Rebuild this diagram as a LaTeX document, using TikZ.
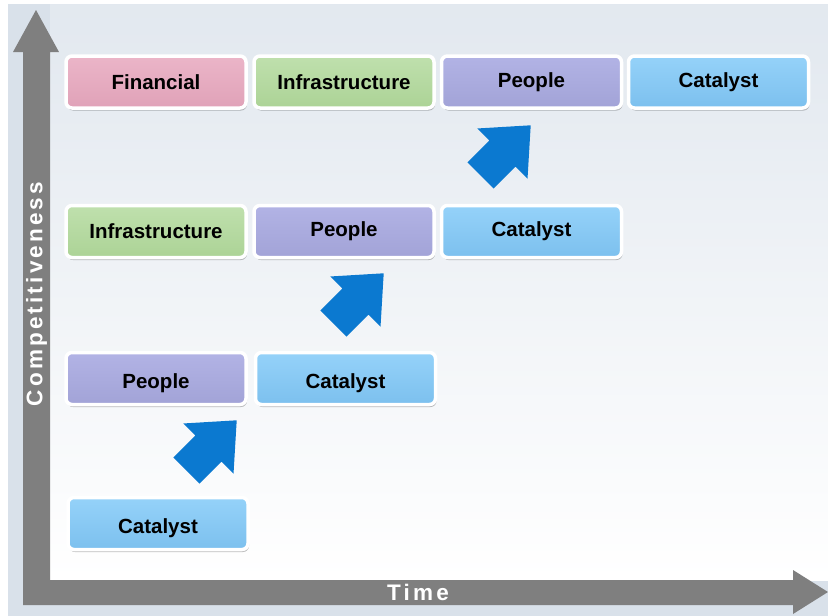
\documentclass[tikz,border=0pt]{standalone}
\usepackage{fontspec}
\setmainfont{Liberation Sans}
\newfontfamily\axisfont[LetterSpace=14]{Liberation Sans}
\usetikzlibrary{shadows}

\definecolor{bgblue}{HTML}{D9E1EA}
\definecolor{axisgray}{HTML}{7F7F7F}
\definecolor{finTop}{HTML}{EBB5C8}\definecolor{finBot}{HTML}{E0A2B8}
\definecolor{infTop}{HTML}{BFE0AD}\definecolor{infBot}{HTML}{ACD396}
\definecolor{pplTop}{HTML}{B2B3E5}\definecolor{pplBot}{HTML}{A2A3D7}
\definecolor{catTop}{HTML}{95D2F9}\definecolor{catBot}{HTML}{7CC0EE}
\definecolor{upblue}{HTML}{0B79D0}

% soft backdrop: white near the time axis, blue-grey toward the top
\pgfdeclareverticalshading{panel}{100bp}{color(0bp)=(white); color(25bp)=(white); color(70bp)=(bgblue!70!white); color(100bp)=(bgblue)}

\begin{document}
\begin{tikzpicture}[x=1pt,y=-1pt,
  stage/.style={rounded corners=6pt, draw=white, line width=3.5pt,
    minimum width=180pt, minimum height=52pt, inner sep=0pt,
    font=\fontsize{20.5}{24}\selectfont\bfseries, text=black,
    drop shadow={shadow xshift=1pt, shadow yshift=-2.5pt, opacity=0.25, fill=black}},
  lowtext/.style={text height=21pt, text depth=2pt},
  financial/.style={stage, top color=finTop, bottom color=finBot},
  infra/.style={stage, top color=infTop, bottom color=infBot},
  people/.style={stage, top color=pplTop, bottom color=pplBot},
  catalyst/.style={stage, top color=catTop, bottom color=catBot},
  axislabel/.style={text=white, font=\axisfont\fontsize{22.5}{26}\selectfont\bfseries, inner sep=0pt},
  steparrow/.style={fill=upblue, draw=none}
]
\useasboundingbox (0,0) rectangle (828,616);

% backdrop
\fill[bgblue] (8,4) rectangle (828,616);
\shade[shading=panel] (50,4) rectangle (828,580);

% axes drawn as one block outline
\fill[axisgray] (23,52) -- (13,52) -- (36,10) -- (59,52) -- (50,52) -- (50,580)
  -- (793,580) -- (793,570) -- (828,592) -- (793,614) -- (793,605) -- (23,605) -- cycle;

\node[axislabel, rotate=90] (yaxis) at (36.5,294) {Competitiveness};
\node[axislabel] (xaxis) at (418,592.5) {Time};

% stage 4 (top row)
\node[financial] (f4) at (156,82) {Financial};
\node[infra]     (i4) at (344,82) {Infrastructure};
\node[people]    (p4) at (531.5,82) {People};
\node[catalyst]  (c4) at (718.5,82) {Catalyst};

% stage 3
\node[infra]     (i3) at (156,231.5) {Infrastructure};
\node[people]    (p3) at (344,231.5) {People};
\node[catalyst]  (c3) at (531.5,231.5) {Catalyst};

% stage 2
\node[people, lowtext]   (p2) at (156,378.5) {People};
\node[catalyst, lowtext] (c2) at (345.5,378.5) {Catalyst};

% stage 1
\node[catalyst, lowtext] (c1) at (158,523.5) {Catalyst};

% upward step arrows
\foreach \cx/\cy in {186.5/470.5, 333.5/323.5, 480.5/175.5}{
  \fill[steparrow, shift={(\cx,\cy)}, rotate=45]
    (0,-18.5) -- (31,-18.5) -- (31,-35.5) -- (71,0) -- (31,35.5) -- (31,18.5) -- (0,18.5) -- cycle;
}
\end{tikzpicture}
\end{document}
